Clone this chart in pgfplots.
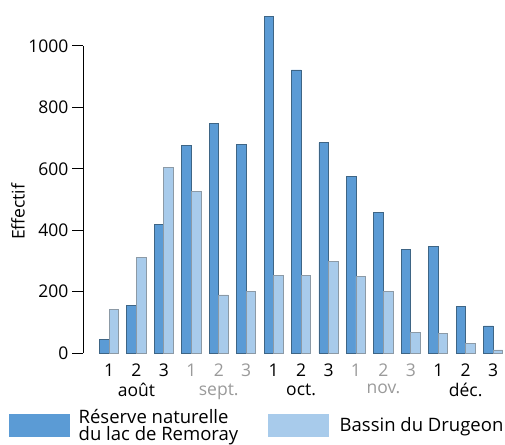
\documentclass[border=0pt]{standalone}
\usepackage{pgfplots}
\pgfplotsset{compat=1.18}
\usepackage{fontspec}
\setmainfont{Open Sans}
\definecolor{darkb}{HTML}{5B9BD5}
\definecolor{lightb}{HTML}{A8CBEB}
\definecolor{darkedge}{HTML}{3E6585}
\definecolor{lightedge}{HTML}{8C9AA6}
\definecolor{tgray}{HTML}{9A9A9A}
\begin{document}
\begin{tikzpicture}
\useasboundingbox (0pt,0pt) rectangle (505pt,444pt);
\begin{axis}[
  at={(83pt,91pt)}, anchor=south west,
  scale only axis, width=420pt, height=307pt,
  xmin=-0.948, xmax=14.36, ymin=0, ymax=1000,
  clip=false,
  ybar=0pt, bar width=0.35,
  tick label style={font=\fontsize{17.5}{20}\selectfont},
  label style={font=\fontsize{17.5}{20}\selectfont},
  /pgf/number format/assume math mode=true,
  separate axis lines,
  axis y line*=left, axis x line*=bottom,
  x axis line style={draw=none},
  y axis line style={line width=1pt, black},
  ytick={0,200,400,600,800,1000},
  /pgf/number format/1000 sep={},
  tick align=outside,
  y tick style={line width=1pt, black},
  major tick length=11pt,
  x tick style={draw=none},
  xtick={0,...,14},
  xticklabels={1,2,3,\textcolor{tgray}{1},\textcolor{tgray}{2},\textcolor{tgray}{3},1,2,3,\textcolor{tgray}{1},\textcolor{tgray}{2},\textcolor{tgray}{3},1,2,3},
  xticklabel style={yshift=4pt},
  extra x ticks={1,4,7,10,13},
  extra x tick labels={ao\^ut,\textcolor{tgray}{sept.},oct.,\textcolor{tgray}{nov.},d\'ec.},
  extra x tick style={tick label style={yshift=-20pt}},
  ylabel={Effectif},
  ylabel style={at={(axis description cs:-0.155,0.46)}, anchor=center},
  legend columns=2,
  legend style={at={(axis description cs:-0.176,-0.296)}, anchor=south west, draw=none, fill=none, inner sep=0pt,
    font=\fontsize{18.5}{17}\selectfont,
    cells={align=left, anchor=west},
    /tikz/every even column/.append style={column sep=28pt}},
]
\addplot[fill=darkb, draw=darkedge, line width=0.8pt,
  legend image code/.code={\draw[fill=darkb, draw=none] (0pt,-11.5pt) rectangle (61pt,11.5pt); \path (67pt,0pt);}]
  coordinates {(0,45) (1,155) (2,420) (3,675) (4,748) (5,680) (6,1095) (7,922) (8,685) (9,575) (10,458) (11,338) (12,348) (13,153) (14,88)};
\addlegendentry{R\'eserve naturelle\\du lac de Remoray}
\addplot[fill=lightb, draw=lightedge, line width=0.8pt,
  legend image code/.code={\draw[fill=lightb, draw=none] (0pt,-11.5pt) rectangle (61pt,11.5pt); \path (69pt,0pt);}]
  coordinates {(0,143) (1,310) (2,605) (3,527) (4,189) (5,200) (6,252) (7,252) (8,298) (9,248) (10,200) (11,68) (12,65) (13,30) (14,10)};
\addlegendentry{Bassin du Drugeon}
\end{axis}
\end{tikzpicture}
\end{document}
